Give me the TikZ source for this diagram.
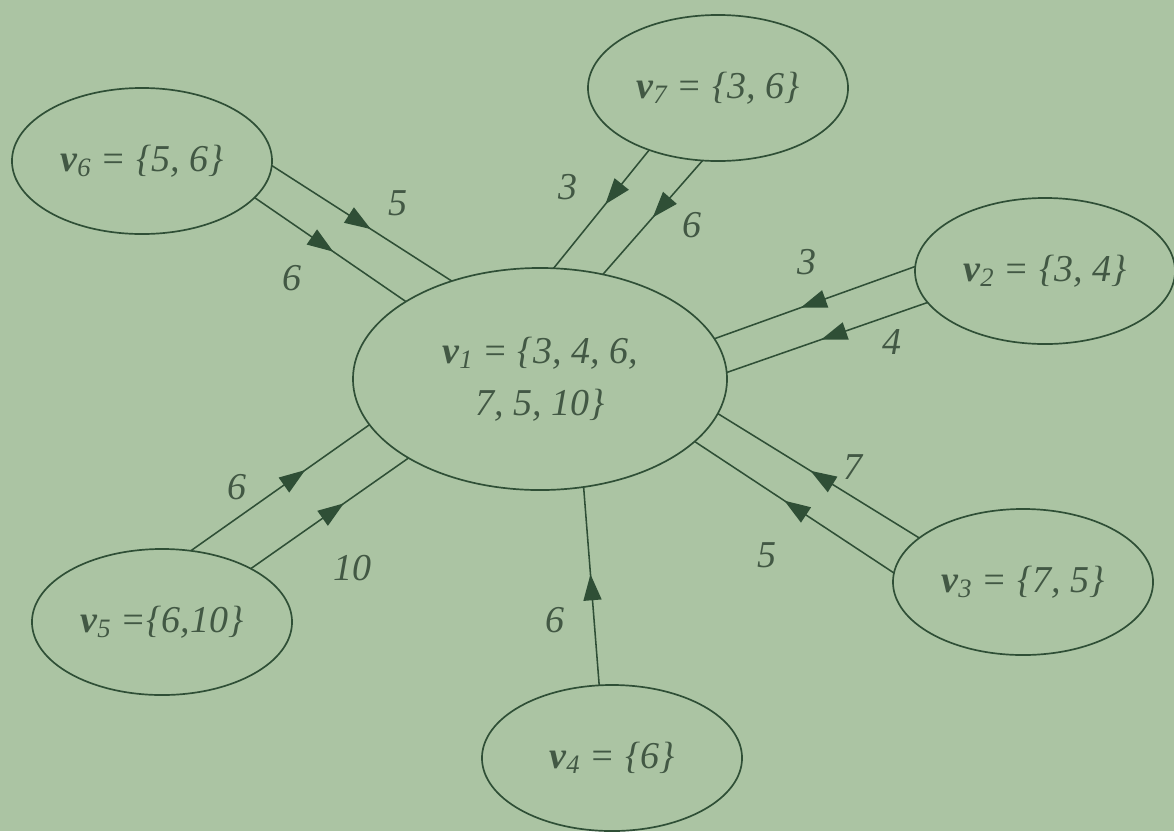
\documentclass[tikz,border=0pt]{standalone}
\usepackage{fontspec}
\setmainfont{Liberation Serif}
\usepackage{xcolor}
\usepackage{tikz}
\usetikzlibrary{arrows.meta,shapes.geometric,decorations.markings}

\definecolor{bgcol}{RGB}{171,196,163}
\definecolor{inkcol}{RGB}{47,79,54}
\definecolor{txtcol}{RGB}{66,88,68}

\newcommand{\vname}[1]{{\bfseries v}\textsubscript{#1}}

\begin{document}
\begin{tikzpicture}[x=0.025cm,y=-0.025cm,
 font=\itshape\fontsize{27}{37}\selectfont,
 vset/.style={ellipse,draw=inkcol,line width=1.2pt,inner sep=0pt,outer sep=0pt,
   minimum width=6.5cm,minimum height=3.65cm,text=txtcol,align=center},
 hub/.style={vset,minimum width=9.35cm,minimum height=5.55cm},
 wlabel/.style={text=txtcol,inner sep=0pt},
 line/.style={draw=inkcol,line width=1.1pt,
   decoration={markings,mark=at position #1 with {\arrow{Triangle[length=6.5mm,width=4.5mm]}}},
   postaction={decorate}},
 line/.default=0.5]
\fill[bgcol] (0,0) rectangle (1174,831);
\useasboundingbox (0,0) rectangle (1174,831);

\node[hub] (v1) at (540,379) {\vname{1} = \{3, 4, 6,\\7, 5, 10\}};
\node[vset] (v6) at (142,161) {\vname{6} = \{5, 6\}};
\node[vset] (v7) at (718,88) {\vname{7} = \{3, 6\}};
\node[vset] (v2) at (1045,271) {\vname{2} = \{3, 4\}};
\node[vset] (v3) at (1023,582) {\vname{3} = \{7, 5\}};
\node[vset] (v5) at (162,622) {\vname{5} =\{6,10\}};
\node[vset] (v4) at (612,758) {\vname{4} = \{6\}};

% edges into v1
\draw[line=0.55] (v6.-2) -- (v1.132);
\draw[line=0.52] (v6.-18) -- (v1.150);
\draw[line=0.46] (v7.222) -- (v1.83);
\draw[line=0.5] (v7.258) -- (v1.59);
\draw[line=0.57] (v2.178) -- (v1.13);
\draw[line=0.53] (v2.195) -- (v1.2);
\draw[line=0.54] (v3.157) -- (v1.-11);
\draw[line=0.55] (v3.176) -- (v1.-22);
\draw[line=0.64] (v5.68) -- (v1.195);
\draw[line=0.59] (v5.31) -- (v1.211);
\draw[line=0.56] (v4.100) -- (v1.292);

% weights
\node[wlabel] (w65) at (398,203) {5};
\node[wlabel] (w66) at (292,278) {6};
\node[wlabel] (w73) at (568,187) {3};
\node[wlabel] (w76) at (692,225) {6};
\node[wlabel] (w23) at (807,262) {3};
\node[wlabel] (w24) at (892,342) {4};
\node[wlabel] (w37) at (853,467) {7};
\node[wlabel] (w35) at (767,555) {5};
\node[wlabel] (w56) at (237,487) {6};
\node[wlabel] (w510) at (352,568) {10};
\node[wlabel] (w46) at (555,620) {6};
\end{tikzpicture}
\end{document}
